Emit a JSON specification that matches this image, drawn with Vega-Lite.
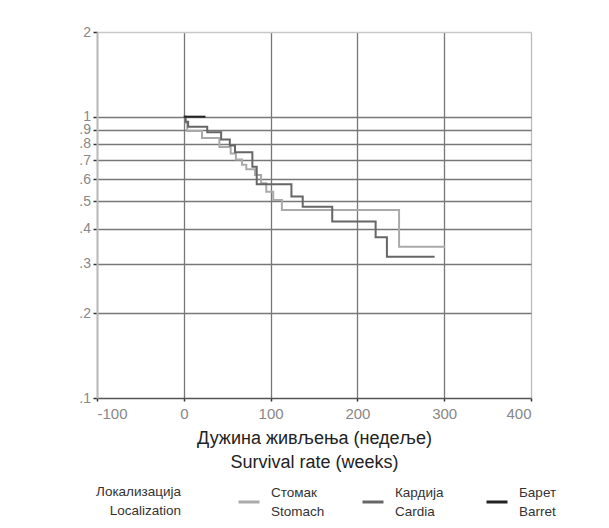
{
  "$schema": "https://vega.github.io/schema/vega-lite/v6.json",
  "width": 434,
  "height": 366,
  "autosize": {"type": "none"},
  "padding": {"left": 97, "top": 32, "right": 78, "bottom": 130},
  "background": "white",
  "config": {
    "view": {"stroke": null},
    "font": "Liberation Sans",
    "style": {"guide-label": {"lineHeight": 19}}
  },
  "data": {
    "values": [
      {"loc": "Стомак|Stomach", "t": 0, "s": 1.0},
      {"loc": "Стомак|Stomach", "t": 2, "s": 0.95},
      {"loc": "Стомак|Stomach", "t": 4, "s": 0.89},
      {"loc": "Стомак|Stomach", "t": 21, "s": 0.84},
      {"loc": "Стомак|Stomach", "t": 41, "s": 0.78},
      {"loc": "Стомак|Stomach", "t": 54, "s": 0.74},
      {"loc": "Стомак|Stomach", "t": 60, "s": 0.705},
      {"loc": "Стомак|Stomach", "t": 67, "s": 0.675},
      {"loc": "Стомак|Stomach", "t": 72, "s": 0.65},
      {"loc": "Стомак|Stomach", "t": 82, "s": 0.621},
      {"loc": "Стомак|Stomach", "t": 89, "s": 0.58},
      {"loc": "Стомак|Stomach", "t": 95, "s": 0.541},
      {"loc": "Стомак|Stomach", "t": 103, "s": 0.506},
      {"loc": "Стомак|Stomach", "t": 113, "s": 0.466},
      {"loc": "Стомак|Stomach", "t": 248, "s": 0.345},
      {"loc": "Стомак|Stomach", "t": 301, "s": 0.345},
      {"loc": "Кардија|Cardia", "t": 0, "s": 1.0},
      {"loc": "Кардија|Cardia", "t": 2, "s": 0.96},
      {"loc": "Кардија|Cardia", "t": 5, "s": 0.92},
      {"loc": "Кардија|Cardia", "t": 27, "s": 0.88},
      {"loc": "Кардија|Cardia", "t": 43, "s": 0.83},
      {"loc": "Кардија|Cardia", "t": 53, "s": 0.79},
      {"loc": "Кардија|Cardia", "t": 59, "s": 0.747},
      {"loc": "Кардија|Cardia", "t": 79, "s": 0.664},
      {"loc": "Кардија|Cardia", "t": 84, "s": 0.575},
      {"loc": "Кардија|Cardia", "t": 124, "s": 0.52},
      {"loc": "Кардија|Cardia", "t": 137, "s": 0.478},
      {"loc": "Кардија|Cardia", "t": 171, "s": 0.424},
      {"loc": "Кардија|Cardia", "t": 221, "s": 0.373},
      {"loc": "Кардија|Cardia", "t": 234, "s": 0.318},
      {"loc": "Кардија|Cardia", "t": 289, "s": 0.318},
      {"loc": "Барет|Barret", "t": 0, "s": 1.0},
      {"loc": "Барет|Barret", "t": 25, "s": 1.0}
    ]
  },
  "mark": {"type": "line", "interpolate": "step-after", "strokeWidth": 2},
  "encoding": {
    "x": {
      "field": "t",
      "type": "quantitative",
      "scale": {"domain": [-100, 400], "nice": false, "zero": false},
      "axis": {
        "values": [-100, 0, 100, 200, 300, 400],
        "labelExpr": "'' + datum.value",
        "title": ["Дужина живљења (недеље)", "Survival rate (weeks)"],
        "titleFontSize": 18,
        "titleFontWeight": "normal",
        "titleColor": "#222",
        "titleLineHeight": 24,
        "titlePadding": 8,
        "labelFontSize": 15,
        "labelColor": "#888",
        "labelPadding": 5,
        "tickSize": 3,
        "tickColor": "#333",
        "tickWidth": 1.5,
        "domainColor": "#555",
        "domainWidth": 1.5,
        "gridColor": {"condition": {"test": "datum.value == -100 || datum.value == 400", "value": "#bbbbbb"}, "value": "#777777"},
        "gridWidth": 1.3
      }
    },
    "y": {
      "field": "s",
      "type": "quantitative",
      "scale": {"type": "log", "domain": [0.1, 2], "nice": false},
      "axis": {
        "values": [0.1, 0.2, 0.3, 0.4, 0.5, 0.6, 0.7, 0.8, 0.9, 1, 2],
        "labelExpr": "datum.value >= 1 ? format(datum.value, 'd') : replace(format(datum.value, '.1f'), '0.', '.')",
        "labelOverlap": false,
        "title": null,
        "labelFontSize": 14,
        "labelColor": "#888",
        "labelPadding": 2.5,
        "tickSize": 4,
        "tickColor": "#333",
        "tickWidth": 1.5,
        "domainColor": "#bbbbbb",
        "domainWidth": 2,
        "gridColor": {"condition": [{"test": "datum.value == 2", "value": "#c8c8c8"}, {"test": "datum.value < 0.15", "value": "rgba(0,0,0,0)"}], "value": "#777777"},
        "gridWidth": 1.3
      }
    },
    "color": {
      "field": "loc",
      "type": "nominal",
      "scale": {"domain": ["Стомак|Stomach", "Кардија|Cardia", "Барет|Barret"], "range": ["#aaaaaa", "#666666", "#222222"]},
      "legend": {
        "orient": "none",
        "legendX": -1,
        "legendY": 458,
        "direction": "horizontal",
        "title": ["Локализација", "Localization"],
        "titleOrient": "left",
        "titleAlign": "right",
        "titleFontSize": 13.5,
        "titleFontWeight": "normal",
        "titleColor": "#333",
        "titleLineHeight": 19,
        "titlePadding": -29,
        "labelFontSize": 13.5,
        "labelColor": "#333",
        "labelOffset": 10,
        "labelExpr": "split(datum.label, '|')",
        "labelLimit": 200,
        "symbolType": "stroke",
        "symbolSize": 441,
        "symbolStrokeWidth": 3,
        "gridAlign": "all",
        "columnPadding": 31,
        "encode": {
          "labels": {"update": {"dy": {"value": -9.5}}},
          "title": {"update": {"dy": {"value": -3}}}
        }
      }
    }
  }
}
